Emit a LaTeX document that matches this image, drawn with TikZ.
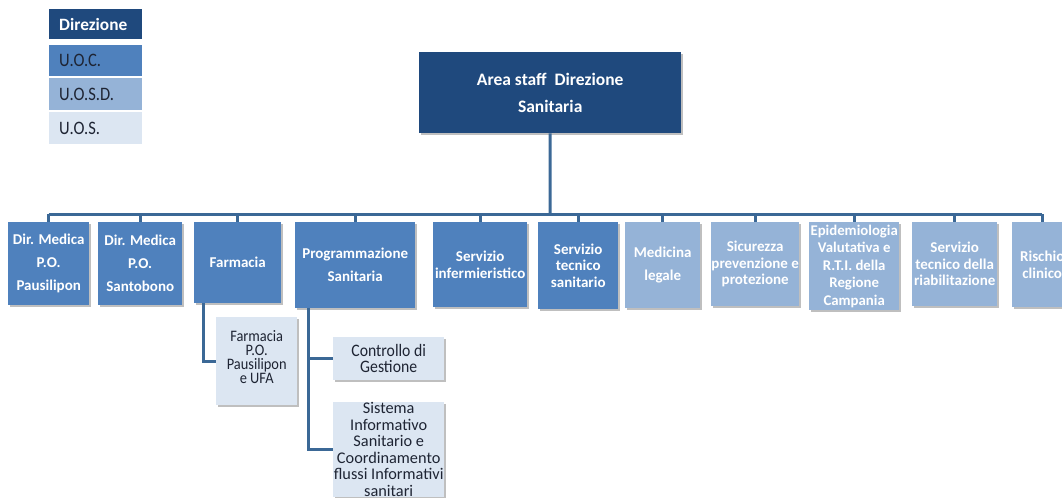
\documentclass[tikz,border=0pt]{standalone}
\usepackage{fontspec}
\setmainfont{Carlito}
\newfontfamily\legf[FakeStretch=0.87]{Carlito}
\newfontfamily\subf[FakeStretch=0.9]{Carlito}
\newfontfamily\ctrlf[FakeStretch=0.9]{Carlito}
\usetikzlibrary{shadows}
\definecolor{cdir}{HTML}{1F497D}
\definecolor{cuoc}{HTML}{4F81BD}
\definecolor{cuosd}{HTML}{95B3D7}
\definecolor{cuos}{HTML}{DCE6F2}
\definecolor{cline}{HTML}{3B6896}
\definecolor{ctxt}{HTML}{1E2433}
\begin{document}
\begin{tikzpicture}[x=1pt,y=-1pt,
  box/.style={draw=none, inner sep=0pt, align=center, anchor=north west,
    drop shadow={shadow xshift=1.5pt, shadow yshift=-1.8pt, opacity=0.25, fill=black}},
  leg/.style={draw=none, inner sep=0pt, anchor=north west, minimum width=93pt, text width=73pt, align=left},
  dirbox/.style={box, fill=cdir, text=white, font=\fontsize{17.5}{27}\selectfont\bfseries},
  uoc/.style={box, fill=cuoc, text=white},
  uosd/.style={box, fill=cuosd, text=white},
  uos/.style={box, fill=cuos, text=ctxt},
  loose/.style={font=\fontsize{15}{23}\selectfont\bfseries},
  tight/.style={font=\fontsize{15}{16.5}\selectfont\bfseries},
  legtxt/.style={font=\legf\fontsize{19}{20}\selectfont},
  conn/.style={draw=cline, line width=3pt}
]
\useasboundingbox (0,0) rectangle (1062,498);
\clip (0,0) rectangle (1062,498);

% legend
\node[leg, fill=cdir, text=white, minimum height=30pt, font=\fontsize{17.3}{20}\selectfont\bfseries] (l1) at (49,9) {Direzione};
\node[leg, fill=cuoc, text=ctxt, minimum height=31pt, legtxt] (l2) at (49,45) {U.O.C.};
\node[leg, fill=cuosd, text=ctxt, minimum height=32pt, legtxt] (l3) at (49,78) {U.O.S.D.};
\node[leg, fill=cuos, text=ctxt, minimum height=32pt, legtxt] (l4) at (49,112) {U.O.S.};

% top
\node[dirbox, minimum width=262pt, minimum height=81pt] (top) at (419,52) {Area staff~~Direzione\\Sanitaria};

\coordinate (bus) at (550,214);

\draw[conn] (top.south) -- (bus);

% first row
\node[uoc, loose, minimum width=81pt, minimum height=83pt] (dm1) at (8,222) {Dir. Medica\\P.O.\\Pausilipon};
\node[uoc, loose, minimum width=84pt, minimum height=83pt] (dm2) at (98,222) {Dir. Medica\\P.O.\\Santobono};
\node[uoc, loose, minimum width=87pt, minimum height=81pt] (farm) at (194,222) {Farmacia};
\node[uoc, loose, minimum width=120pt, minimum height=86pt] (prog) at (295,222) {Programmazione\\Sanitaria};
\node[uoc, tight, minimum width=94pt, minimum height=85pt] (inf) at (433,222) {Servizio\\infermieristico};
\node[uoc, tight, minimum width=80pt, minimum height=87pt] (tec) at (538,222) {Servizio\\tecnico\\sanitario};
\node[uosd, loose, minimum width=75pt, minimum height=86pt] (med) at (625,222) {Medicina\\legale};
\node[uosd, tight, minimum width=88pt, minimum height=84pt] (sic) at (711,222) {Sicurezza\\prevenzione e\\protezione};
\node[uosd, font=\fontsize{14.8}{17.5}\selectfont\bfseries, minimum width=90pt, minimum height=88pt] (epi) at (809,222) {Epidemiologia\\Valutativa e\\R.T.I. della\\Regione\\Campania};
\node[uosd, tight, minimum width=85pt, minimum height=84pt] (ria) at (912,222) {Servizio\\tecnico della\\riabilitazione};
\node[uosd, tight, minimum width=60pt, minimum height=85pt] (ris) at (1012,222) {Rischio\\clinico};

% sub units
\node[uos, font=\subf\fontsize{16}{14}\selectfont, minimum width=81pt, minimum height=88pt] (ffa) at (216,317) {Farmacia\\P.O.\\Pausilipon\\e UFA\\[-6pt]\mbox{}};
\node[uos, font=\ctrlf\fontsize{17.5}{16.5}\selectfont, minimum width=111pt, minimum height=43pt] (ctrl) at (333,337) {Controllo di\\Gestione};
\node[uos, font=\fontsize{16.3}{16.6}\selectfont, minimum width=111pt, minimum height=92pt] (sis) at (333,402) {Sistema\\Informativo\\Sanitario e\\Coordinamento\\flussi Informativi\\sanitari};

% bus and drops
\draw[conn] (dm1.north |- bus) -- (ris.north |- bus);
\foreach \n in {dm1,dm2,farm,prog,inf,tec,med,sic,epi,ria,ris}
  \draw[conn] (\n.north |- bus) -- (\n.north);

% sub connectors
\draw[conn] ([xshift=9pt]farm.south west) |- (ffa.west);
\draw[conn] ([xshift=13pt]prog.south west) |- (ctrl.west);
\draw[conn] ([xshift=13pt]prog.south west) |- (sis.west);
\end{tikzpicture}
\end{document}
